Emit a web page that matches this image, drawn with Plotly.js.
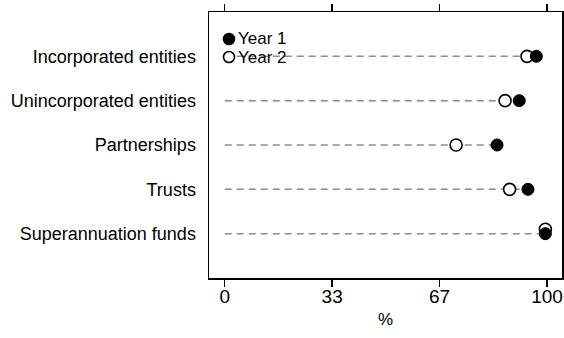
<!DOCTYPE html>
<html>
<head>
<meta charset="utf-8">
<script src="https://cdn.plot.ly/plotly-3.0.1.min.js"></script>
<style>
  html, body { margin: 0; padding: 0; background: #fff; }
  #chart { width: 564px; height: 338px; }
</style>
</head>
<body>
<div id="chart"></div>
<script>
// Share of entities (%) by entity type, two years
const categories = [
  "Incorporated entities",
  "Unincorporated entities",
  "Partnerships",
  "Trusts",
  "Superannuation funds"
];
const year1 = [96.7, 91.4, 84.5, 94.1, 99.5];
const year2 = [93.8, 87.0, 71.8, 88.4, 99.5];
const seriesNames = ["Year 1", "Year 2"];
const xTickVals = [0, 100 / 3, 200 / 3, 100];
const xTickText = ["0", "33", "67", "100"];

const W = 564, H = 338;
const margin = { l: 209, r: 2, t: 12, b: 60, pad: 0 };
const plotW = W - margin.l - margin.r;
const plotH = H - margin.t - margin.b;
const FONT = "Liberation Sans, Arial, sans-serif";

const rows = categories.map((_, i) => i);

// dashed guide from 0 to the larger of the two values in each row
const guideX = [], guideY = [];
rows.forEach(i => {
  guideX.push(0, Math.max(year1[i], year2[i]), null);
  guideY.push(i, i, null);
});

// when both years coincide, nudge the hollow marker up a little so it stays visible
const year2Rows = rows.map(i => Math.abs(year1[i] - year2[i]) < 0.5 ? i - 0.1 : i);

const traces = [
  {
    type: "scatter", mode: "lines", x: guideX, y: guideY,
    line: { color: "#8c8c8c", width: 1.5, dash: "7px,5px" },
    hoverinfo: "skip", showlegend: false
  },
  {
    type: "scatter", mode: "markers", name: seriesNames[1],
    x: year2, y: year2Rows,
    marker: { symbol: "circle", size: 12, color: "#ffffff",
              line: { color: "#000000", width: 1.6 } },
    showlegend: false
  },
  {
    type: "scatter", mode: "markers", name: seriesNames[0],
    x: year1, y: rows,
    marker: { symbol: "circle", size: 12, color: "#000000",
              line: { color: "#000000", width: 1 } },
    showlegend: false
  }
];

// key drawn inside the top-left corner of the plot area
const px2x = p => (p - margin.l) / plotW;
const px2y = p => 1 - (p - margin.t) / plotH;
const keyItems = [
  { y: 39, fill: "#000000", label: seriesNames[0] },
  { y: 57, fill: "#ffffff", label: seriesNames[1] }
];
const shapes = keyItems.map(k => ({
  type: "circle", xref: "paper", yref: "paper",
  xsizemode: "pixel", ysizemode: "pixel",
  xanchor: px2x(229), yanchor: px2y(k.y),
  x0: -5.5, x1: 5.5, y0: -5.5, y1: 5.5,
  fillcolor: k.fill, line: { color: "#000000", width: 1.6 },
  layer: "above"
}));
const annotations = keyItems.map(k => ({
  xref: "paper", yref: "paper",
  x: px2x(236), y: px2y(k.y),
  xanchor: "left", yanchor: "middle",
  text: k.label, showarrow: false,
  font: { family: FONT, size: 17, color: "#000000" }
}));

const layout = {
  width: W, height: H,
  margin: margin,
  paper_bgcolor: "#ffffff", plot_bgcolor: "#ffffff",
  showlegend: false,
  font: { family: FONT, color: "#000000" },
  xaxis: {
    range: [-4.88, 104.66],
    tickmode: "array", tickvals: xTickVals, ticktext: xTickText,
    ticks: "outside", ticklen: 7, tickwidth: 1.5, tickcolor: "#000000",
    ticklabelstandoff: -6,
    showline: true, linecolor: "#000000", linewidth: 1.5, mirror: "ticks",
    showgrid: false, zeroline: false,
    tickfont: { family: FONT, size: 19, color: "#000000" },
    title: { text: "%", standoff: 7, font: { family: FONT, size: 17, color: "#000000" } }
  },
  yaxis: {
    range: [5, -1],
    tickmode: "array", tickvals: rows, ticktext: categories,
    ticks: "", ticklabelstandoff: 8,
    showline: true, linecolor: "#000000", linewidth: 1.5, mirror: true,
    showgrid: false, zeroline: false,
    tickfont: { family: FONT, size: 18, color: "#000000" }
  },
  shapes: shapes,
  annotations: annotations
};

Plotly.newPlot("chart", traces, layout, { staticPlot: true, displayModeBar: false });
</script>
</body>
</html>
